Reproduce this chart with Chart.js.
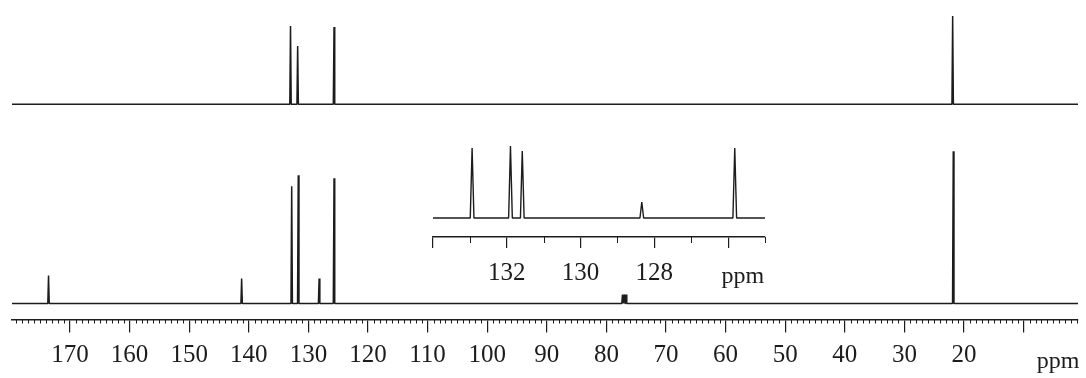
<!DOCTYPE html>
<html>
<head>
<meta charset="utf-8">
<script src="https://cdn.jsdelivr.net/npm/chart.js@4.4.1/dist/chart.umd.min.js"></script>
<style>
  html, body { margin: 0; padding: 0; background: #fff; }
  #wrap { position: relative; width: 1086px; height: 378px; overflow: hidden; }
  #main { position: absolute; left: 0; top: 0; }
  #inset { position: absolute; left: 400px; top: 130px; }
</style>
</head>
<body>
<div id="wrap">
  <canvas id="main" width="1086" height="378"></canvas>
  <canvas id="inset" width="400" height="170"></canvas>
</div>
<script>
// peaks: shift (ppm) and height above baseline
const topPeaksPpm = [133.0, 131.8, 125.7, 21.9]
const topPeaksHeight = [78, 58, 77, 88]
const bottomPeaksPpm = [173.6, 141.2, 132.8, 131.7, 128.2, 125.7, 77.3, 77.0, 76.7, 21.8]
const bottomPeaksHeight = [28, 25, 117, 128, 25, 125, 9, 9, 9, 152]
const insetPeaksPpm = [132.94, 131.90, 131.58, 128.34, 125.82]
const insetPeaksHeight = [70, 72, 67, 16, 70]
const mainTickLabels = [170, 160, 150, 140, 130, 120, 110, 100, 90, 80, 70, 60, 50, 40, 30, 20]
const insetTickLabels = [132, 130, 128]

const INK = '#1c1c1c'
const SERIF = "'Liberation Serif', 'DejaVu Serif', serif"

/**
 * Build a stick spectrum (baseline with narrow peaks) for a line dataset
 */
function spectrum(ppms, heights, lo, hi, base, halfWidth) {
  const pts = [{x: hi, y: base}]
  ppms.map((p, i) => [p, heights[i]])
    .sort((a, b) => b[0] - a[0])
    .forEach(([p, h]) => {
      pts.push({x: p + halfWidth, y: base}, {x: p, y: base + h}, {x: p - halfWidth, y: base})
    })
  pts.push({x: lo, y: base})
  return pts
}

function line(data, width) {
  return {
    data: data,
    borderColor: INK,
    borderWidth: width,
    borderJoinStyle: 'bevel',
    pointRadius: 0,
    tension: 0,
    fill: false
  }
}

/**
 * Short ticks between the labelled ones, plus the "ppm" unit text
 */
const minorTicks = {
  id: 'minorTicks',
  afterDraw(chart, args, opts) {
    const sc = chart.scales.x
    const ctx = chart.ctx
    const y0 = chart.chartArea.bottom
    ctx.save()
    ctx.strokeStyle = INK
    ctx.lineWidth = 1
    for (let v = Math.ceil(sc.min); v <= sc.max; v += 1) {
      if (v % opts.major === 0) continue
      const x = Math.round(sc.getPixelForValue(v)) + 0.5
      ctx.beginPath()
      ctx.moveTo(x, y0)
      ctx.lineTo(x, y0 + opts.length)
      ctx.stroke()
    }
    ctx.fillStyle = INK
    ctx.font = opts.font
    ctx.textAlign = 'center'
    ctx.textBaseline = 'alphabetic'
    ctx.fillText('ppm', sc.getPixelForValue(opts.unitAt), opts.unitY)
    ctx.restore()
  }
}

function xAxis(min, max, step, labels, tickLen, pad, lh) {
  return {
    type: 'linear',
    reverse: true,
    min: min,
    max: max,
    border: { display: true, color: INK, width: 1.5 },
    grid: { drawOnChartArea: false, drawTicks: true, tickLength: tickLen, color: INK, lineWidth: 1.2 },
    ticks: {
      stepSize: step,
      includeBounds: false,
      autoSkip: false,
      maxRotation: 0,
      padding: pad,
      color: INK,
      font: { family: SERIF, size: 25, lineHeight: lh },
      callback: v => labels.includes(v) ? String(v) : ''
    }
  }
}

// main spectrum: upper and lower traces share one ppm axis
const MAIN_MIN = 0.87, MAIN_MAX = 179.73
new Chart(document.getElementById('main').getContext('2d'), {
  type: 'line',
  data: {
    datasets: [
      line(spectrum(topPeaksPpm, topPeaksHeight, MAIN_MIN, MAIN_MAX, 215, 0.12), 1.5),
      line(spectrum(bottomPeaksPpm, bottomPeaksHeight, MAIN_MIN, MAIN_MAX, 16, 0.12), 1.5)
    ]
  },
  options: {
    responsive: false,
    animation: false,
    devicePixelRatio: 1,
    layout: { padding: { left: 12, right: 8, top: 0, bottom: 0 } },
    plugins: {
      legend: { display: false },
      tooltip: { enabled: false },
      minorTicks: { major: 10, length: 4, font: '24px ' + SERIF, unitAt: 4.2, unitY: 368 }
    },
    scales: {
      x: xAxis(MAIN_MIN, MAIN_MAX, 10, mainTickLabels, 13, 9, 1.1),
      y: { display: false, min: 0, max: 319 }
    }
  },
  plugins: [minorTicks]
})

// expanded aromatic region
new Chart(document.getElementById('inset').getContext('2d'), {
  type: 'line',
  data: {
    datasets: [
      line(spectrum(insetPeaksPpm, insetPeaksHeight, 125, 134, 19, 0.05), 1.4)
    ]
  },
  options: {
    responsive: false,
    animation: false,
    devicePixelRatio: 1,
    layout: { padding: { left: 33, right: 35, top: 0, bottom: 2 } },
    plugins: {
      legend: { display: false },
      tooltip: { enabled: false },
      minorTicks: { major: 2, length: 6, font: '24px ' + SERIF, unitAt: 125.6, unitY: 153 }
    },
    scales: {
      x: xAxis(125, 134, 2, insetTickLabels, 11, 10, 1.2),
      y: { display: false, min: 0, max: 107 }
    }
  },
  plugins: [minorTicks]
})
</script>
</body>
</html>
